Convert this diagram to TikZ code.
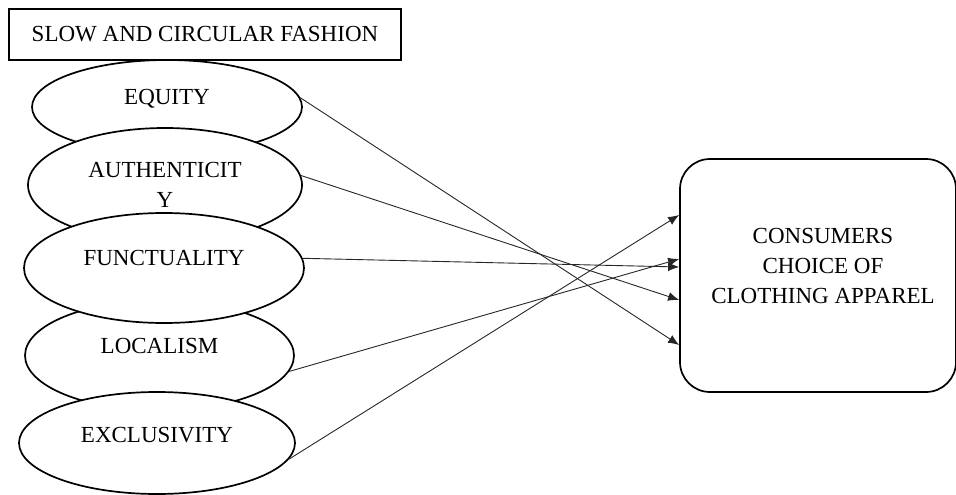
\documentclass[tikz,border=0pt]{standalone}
\usepackage{fontspec}
\setmainfont{Liberation Serif}
\usetikzlibrary{shapes.geometric,arrows.meta,calc}

\begin{document}
\begin{tikzpicture}[x=1pt,y=-1pt,
  every node/.style={font=\fontsize{23}{30}\selectfont},
  oval/.style={ellipse,draw,line width=1.7pt,fill=white,inner sep=0pt},
  link/.style={-{Latex[length=11pt,width=9pt]},line width=0.9pt,draw=black!85}]
\useasboundingbox (0,0) rectangle (956,495);
% factors of slow and circular fashion (later ones hide the lower edge of earlier ones)
\node[oval,minimum width=270pt,minimum height=94pt,label={[yshift=8pt]center:EQUITY}] (equity) at (167,107) {};
\node[oval,minimum width=274pt,minimum height=114pt,label={[align=center]center:{AUTHENTICIT\\Y}}] (auth) at (165,185) {};
\node[oval,minimum width=269pt,minimum height=110pt,label={[yshift=10pt]center:LOCALISM}] (local) at (159.5,355.5) {};
\node[oval,minimum width=276pt,minimum height=102pt,label={[yshift=8pt]center:EXCLUSIVITY}] (excl) at (157,443) {};
\node[oval,minimum width=280pt,minimum height=110pt,label={[yshift=10pt]center:FUNCTUALITY}] (func) at (164,268) {};
\node[draw,line width=1.3pt,fill=white,minimum width=392pt,minimum height=51pt,inner sep=0pt] (title) at (205,34.5) {SLOW AND CIRCULAR FASHION};
% outcome
\node[draw,line width=1.7pt,rounded corners=30pt,minimum width=276pt,minimum height=233pt,
  label={[xshift=5pt,yshift=9.5pt,align=center]center:{CONSUMERS\\CHOICE OF\\CLOTHING APPAREL}}] (cons) at (818,275.5) {};
% links
\draw[link] (equity.4) -- ($(cons.west)+(0,69.5)$);
\draw[link] (auth.4) -- ($(cons.west)+(0,24.5)$);
\draw[link] (func.4) -- ($(cons.west)+(0,-8.5)$);
\draw[link] (local.-7) -- ($(cons.west)+(0,-16.5)$);
\draw[link] (excl.-7) -- ($(cons.west)+(0,-60.5)$);
\end{tikzpicture}
\end{document}
